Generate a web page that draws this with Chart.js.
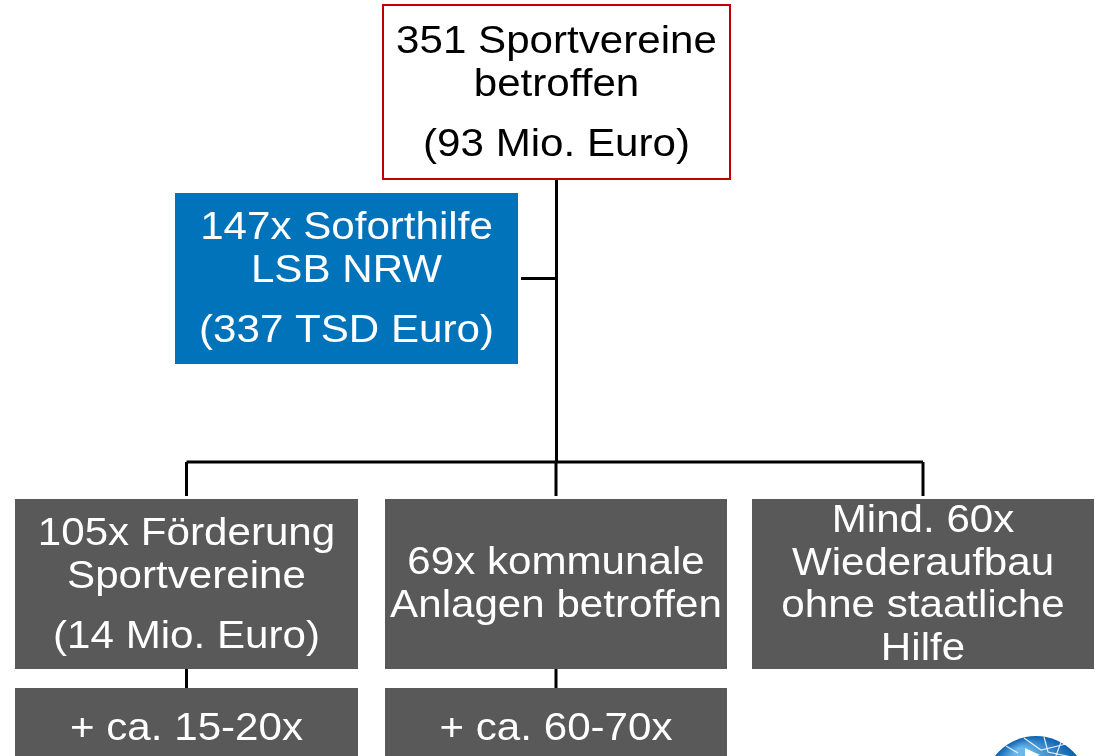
<!DOCTYPE html>
<html lang="de">
<head>
<meta charset="utf-8">
<title>Sportvereine Hochwasser</title>
<script src="https://cdn.jsdelivr.net/npm/chart.js@4.4.1/dist/chart.umd.min.js"></script>
<style>
  html, body { margin: 0; padding: 0; background: #ffffff; }
  #wrap { position: relative; width: 1097px; height: 756px; overflow: hidden; }
</style>
</head>
<body>
<div id="wrap"><canvas id="orgChart"></canvas></div>
<script>
// tree data
const nodeIds = ['root', 'soforthilfe', 'foerderung', 'kommunal', 'wiederaufbau', 'foerderungPlus', 'kommunalPlus'];
const nodeParents = [null, 'root', 'root', 'root', 'root', 'foerderung', 'kommunal'];
const nodeText = [
    [['351 Sportvereine', 'betroffen'], ['(93 Mio. Euro)']],
    [['147x Soforthilfe', 'LSB NRW'], ['(337 TSD Euro)']],
    [['105x Förderung', 'Sportvereine'], ['(14 Mio. Euro)']],
    [['69x kommunale', 'Anlagen betroffen']],
    [['Mind. 60x', 'Wiederaufbau', 'ohne staatliche', 'Hilfe']],
    [['+ ca. 15-20x']],
    [['+ ca. 60-70x']],
];

// layout, in the same units as the (hidden) axes
const layout = {
    root:           { x0: 383, y0: 5,   x1: 730,  y1: 179, base: 53,  look: 'outline' },
    soforthilfe:    { x0: 175, y0: 193, x1: 518,  y1: 364, base: 239, look: 'blue', side: true },
    foerderung:     { x0: 15,  y0: 499, x1: 358,  y1: 669, base: 545, look: 'grey' },
    kommunal:       { x0: 385, y0: 499, x1: 727,  y1: 669, base: 574, look: 'grey' },
    wiederaufbau:   { x0: 752, y0: 499, x1: 1094, y1: 669, base: 532, look: 'grey' },
    foerderungPlus: { x0: 15,  y0: 688, x1: 358,  y1: 870, base: 740, look: 'grey' },
    kommunalPlus:   { x0: 385, y0: 688, x1: 727,  y1: 870, base: 740, look: 'grey' },
};
const busY = 462;
const lineHeight = 42.5;
const paraGap = 18;

const looks = {
    outline: { fill: '#ffffff', border: '#c00000', text: '#000000' },
    blue:    { fill: '#0073ba', border: null, text: '#ffffff' },
    grey:    { fill: '#595959', border: null, text: '#ffffff' },
};

const cx = id => (layout[id].x0 + layout[id].x1) / 2;
const cy = id => (layout[id].y0 + layout[id].y1) / 2;

// build connector polylines from the tree
const connectors = [];
nodeIds.forEach((id, i) => {
    const kids = nodeIds.filter((k, j) => nodeParents[j] === id);
    if (!kids.length) return;
    const p = layout[id];
    const side = kids.filter(k => layout[k].side);
    const below = kids.filter(k => !layout[k].side);
    if (below.length > 1) {
        connectors.push([{ x: cx(id), y: p.y1 }, { x: cx(id), y: busY }]);
        const xs = below.map(cx);
        connectors.push([{ x: Math.min(...xs), y: busY }, { x: Math.max(...xs), y: busY }]);
        below.forEach(k => connectors.push([{ x: cx(k), y: busY }, { x: cx(k), y: layout[k].y0 - 3 }]));
    } else if (below.length === 1) {
        connectors.push([{ x: cx(id), y: p.y1 }, { x: cx(id), y: layout[below[0]].y0 }]);
    }
    side.forEach(k => connectors.push([{ x: layout[k].x1 + 3, y: cy(k) }, { x: cx(id), y: cy(k) }]));
});

const boxPlugin = {
    id: 'orgBoxes',
    afterDatasetsDraw(chart) {
        const ctx = chart.ctx;
        const sx = v => chart.scales.x.getPixelForValue(v);
        const sy = v => chart.scales.y.getPixelForValue(v);

        nodeIds.forEach((id, i) => {
            const b = layout[id];
            const look = looks[b.look];
            const x0 = sx(b.x0), x1 = sx(b.x1), y0 = sy(b.y0), y1 = sy(b.y1);
            ctx.save();
            ctx.fillStyle = look.fill;
            ctx.fillRect(x0, y0, x1 - x0, y1 - y0);
            if (look.border) {
                ctx.strokeStyle = look.border;
                ctx.lineWidth = 2;
                ctx.strokeRect(x0, y0, x1 - x0, y1 - y0);
            }
            ctx.fillStyle = look.text;
            ctx.font = '39px "Liberation Sans", Arial, sans-serif';
            ctx.textAlign = 'center';
            ctx.textBaseline = 'alphabetic';
            let y = b.base;
            nodeText[i].forEach((para, pi) => {
                if (pi > 0) y += paraGap;
                para.forEach((line, li) => {
                    if (pi > 0 || li > 0) y += lineHeight;
                    ctx.save();
                    ctx.translate(sx(cx(id)), sy(y));
                    ctx.scale(1.08, 1);
                    ctx.fillText(line, 0, 0);
                    ctx.restore();
                });
            });
            ctx.restore();
        });

        // logo in the corner
        const gx = sx(1036), gy = sy(788), r = 52;
        ctx.save();
        const grad = ctx.createRadialGradient(gx - 15, gy - 35, 5, gx, gy, r);
        grad.addColorStop(0, '#6ab8ec');
        grad.addColorStop(1, '#0b5fae');
        ctx.fillStyle = grad;
        ctx.beginPath();
        ctx.arc(gx, gy, r, 0, Math.PI * 2);
        ctx.fill();
        ctx.strokeStyle = 'rgba(255,255,255,0.85)';
        ctx.lineWidth = 1.2;
        ctx.beginPath();
        ctx.moveTo(gx - 12, gy - 50); ctx.lineTo(gx + 5, gy - 38); ctx.lineTo(gx + 30, gy - 44);
        ctx.moveTo(gx + 8, gy - 51); ctx.lineTo(gx + 12, gy - 36); ctx.lineTo(gx + 40, gy - 30);
        ctx.moveTo(gx + 25, gy - 46); ctx.lineTo(gx + 20, gy - 32);
        ctx.moveTo(gx - 30, gy - 42); ctx.lineTo(gx - 18, gy - 35);
        ctx.stroke();
        ctx.fillStyle = '#ffffff';
        ctx.beginPath();
        ctx.moveTo(gx - 11, gy - 40); ctx.lineTo(gx + 4, gy - 33); ctx.lineTo(gx - 11, gy - 28);
        ctx.closePath();
        ctx.fill();
        ctx.restore();
    }
};

new Chart(document.getElementById('orgChart'), {
    type: 'line',
    data: {
        datasets: connectors.map(seg => ({
            data: seg,
            borderColor: '#000000',
            borderWidth: 3,
            pointRadius: 0,
            fill: false,
            tension: 0,
            clip: false,
        })),
    },
    options: {
        responsive: true,
        maintainAspectRatio: false,
        animation: false,
        events: [],
        layout: { padding: 0 },
        plugins: {
            legend: { display: false },
            tooltip: { enabled: false },
        },
        scales: {
            x: { type: 'linear', min: 0, max: 1097, display: false },
            y: { type: 'linear', min: 0, max: 756, reverse: true, display: false },
        },
    },
    plugins: [boxPlugin],
});
</script>
</body>
</html>
